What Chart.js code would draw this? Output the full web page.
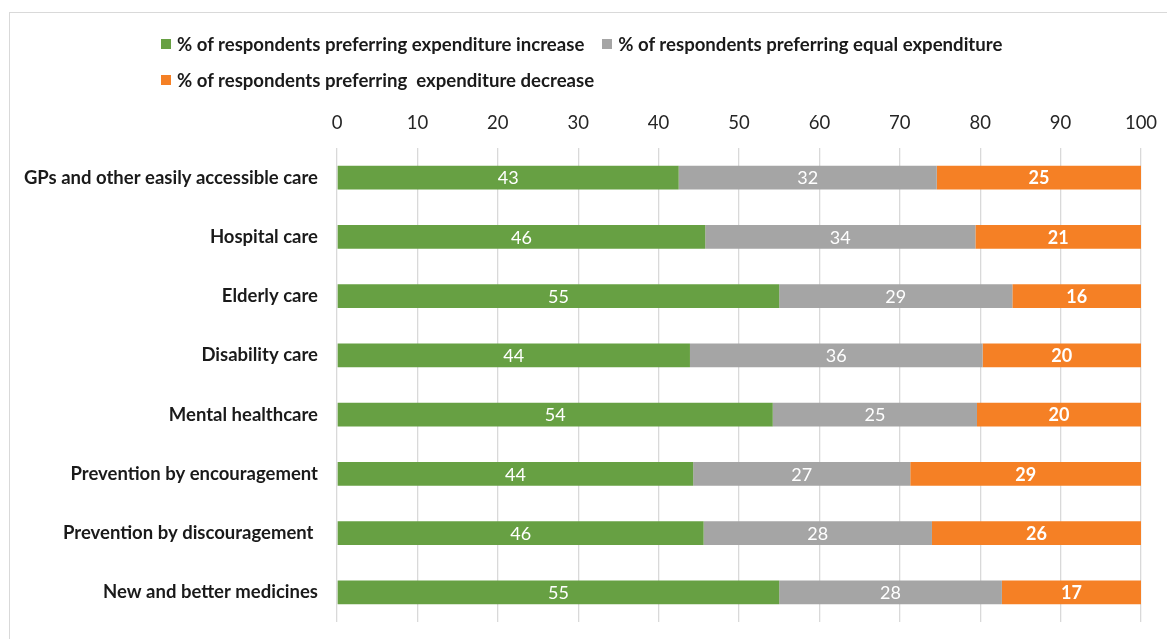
<!DOCTYPE html>
<html>
<head>
<meta charset="utf-8">
<script src="https://cdn.jsdelivr.net/npm/chart.js@4.4.1/dist/chart.umd.min.js"></script>
<style>
  html, body { margin: 0; padding: 0; background: #fff; }
  #wrap { position: relative; width: 1167px; height: 639px; overflow: hidden; }
  #frame { position: absolute; left: 9px; top: 12px; width: 1300px; height: 800px;
           border: 1px solid #d9d9d9; box-sizing: border-box; pointer-events: none; }
  #legend { position: absolute; left: 161px; top: 33px; width: 900px;
            display: flex; flex-wrap: wrap; row-gap: 14px; column-gap: 18px;
            font-family: Lato, "Noto Sans", sans-serif; font-weight: bold; font-size: 18.6px; color: #1a1a1a; }
  #legend .item { display: flex; align-items: center; height: 22px; white-space: pre; }
  #legend .box { width: 10px; height: 10px; margin-right: 6px; }
</style>
</head>
<body>
<div id="wrap">
  <canvas id="myChart" width="1167" height="639"></canvas>
  <div id="legend"></div>
  <div id="frame"></div>
</div>
<script>
var categories = [
  "GPs and other easily accessible care",
  "Hospital care",
  "Elderly care",
  "Disability care",
  "Mental healthcare",
  "Prevention by encouragement",
  "Prevention by discouragement ",
  "New and better medicines"
];
var seriesNames = [
  "% of respondents preferring expenditure increase",
  "% of respondents preferring equal expenditure",
  "% of respondents preferring  expenditure decrease"
];
var increaseValues = [42.5, 45.8, 55.0, 43.9, 54.2, 44.3, 45.6, 55.0];
var equalValues = [32.1, 33.6, 29.0, 36.4, 25.4, 27.0, 28.4, 27.7];
var decreaseValues = [25.4, 20.6, 16.0, 19.7, 20.4, 28.7, 26.0, 17.3];
var barColors = ["#67a043", "#a5a5a5", "#f58025"];
var xTicks = [0, 10, 20, 30, 40, 50, 60, 70, 80, 90, 100];

var fontFamily = "Lato, 'Noto Sans', sans-serif";

// value labels drawn in the middle of each bar segment
var barLabels = {
  id: "barLabels",
  afterDatasetsDraw: function (chart) {
    var ctx = chart.ctx;
    ctx.save();
    ctx.textAlign = "center";
    ctx.textBaseline = "middle";
    ctx.fillStyle = "#ffffff";
    chart.data.datasets.forEach(function (ds, i) {
      var meta = chart.getDatasetMeta(i);
      ctx.font = (i === 2 ? "bold " : "") + "18px " + fontFamily;
      meta.data.forEach(function (bar, j) {
        var p = bar.getCenterPoint();
        ctx.fillText(Math.round(ds.data[j]), p.x, p.y + 1);
      });
    });
    ctx.restore();
  }
};

// legend rendered as html, left aligned rows like the original
var htmlLegend = {
  id: "htmlLegend",
  afterUpdate: function (chart) {
    var box = document.getElementById("legend");
    box.innerHTML = "";
    chart.options.plugins.legend.labels.generateLabels(chart).forEach(function (item) {
      var el = document.createElement("div");
      el.className = "item";
      var sq = document.createElement("span");
      sq.className = "box";
      sq.style.background = item.fillStyle;
      el.appendChild(sq);
      el.appendChild(document.createTextNode(item.text));
      box.appendChild(el);
    });
  }
};

// drop the extra room chart.js keeps for the edge tick labels
function noPad(scale) {
  scale.paddingLeft = scale.paddingRight = scale.paddingTop = scale.paddingBottom = 0;
}

new Chart("myChart", {
  type: "bar",
  data: {
    labels: categories,
    datasets: [
      { label: seriesNames[0], data: increaseValues, backgroundColor: barColors[0] },
      { label: seriesNames[1], data: equalValues, backgroundColor: barColors[1] },
      { label: seriesNames[2], data: decreaseValues, backgroundColor: barColors[2] }
    ]
  },
  options: {
    indexAxis: "y",
    responsive: false,
    animation: false,
    layout: { padding: { left: 0, right: 26, top: 100, bottom: 17 } },
    datasets: { bar: { barPercentage: 0.8, categoryPercentage: 0.506, borderWidth: 0 } },
    scales: {
      x: {
        position: "top",
        stacked: true,
        min: 0,
        max: 100,
        afterBuildTicks: function (scale) {
          scale.ticks = xTicks.map(function (v) { return { value: v }; });
        },
        afterFit: function (scale) { scale.height = 48; noPad(scale); },
        grid: { color: "#d9d9d9", lineWidth: 1.3, drawTicks: false },
        border: { display: false },
        ticks: { padding: 14, color: "#262626", font: { family: fontFamily, size: 18.5 } }
      },
      y: {
        stacked: true,
        afterFit: function (scale) { scale.width = 337; noPad(scale); },
        grid: { display: false, drawTicks: false },
        border: { display: false },
        ticks: { padding: 19, color: "#1a1a1a", font: { family: fontFamily, size: 18.5, weight: "bold" } }
      }
    },
    plugins: {
      legend: { display: false },
      tooltip: { enabled: false }
    }
  },
  plugins: [barLabels, htmlLegend]
});
</script>
</body>
</html>
